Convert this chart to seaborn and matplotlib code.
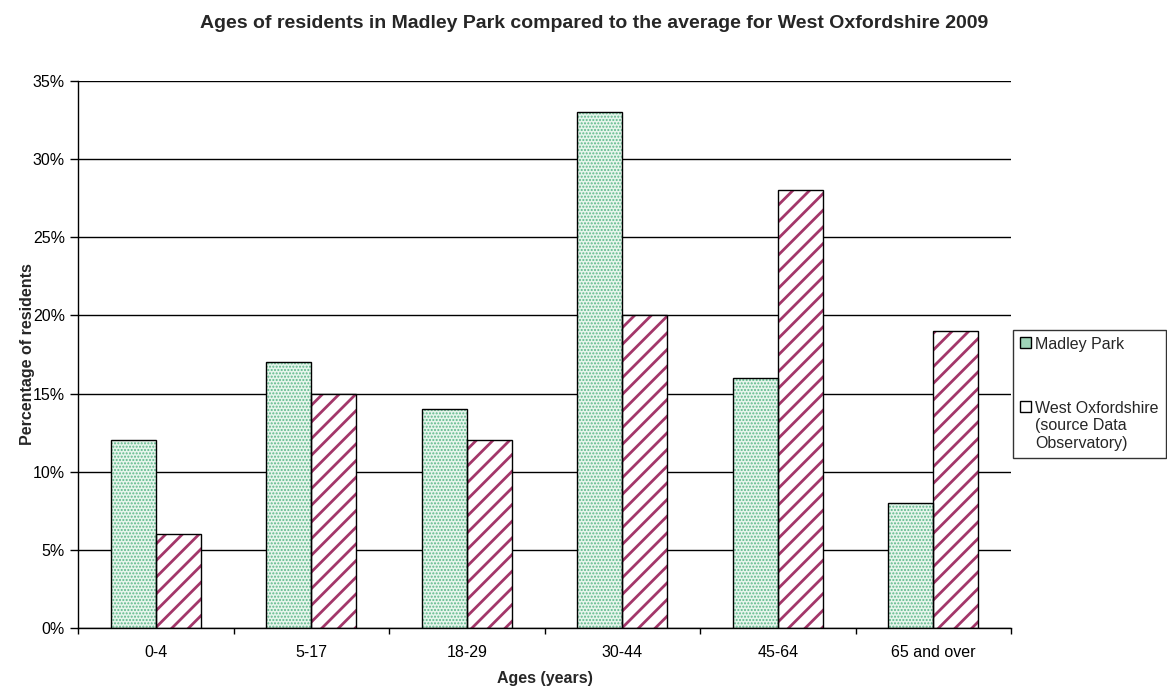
import matplotlib
matplotlib.use("Agg")
import matplotlib.pyplot as plt
import seaborn as sns
import pandas as pd
from matplotlib.patches import Rectangle, Patch
from matplotlib.ticker import FixedLocator, FuncFormatter

categories = ["0-4", "5-17", "18-29", "30-44", "45-64", "65 and over"]
madley_park = [12, 17, 14, 33, 16, 8]
west_oxfordshire = [6, 15, 12, 20, 28, 19]
series_names = ["Madley Park", "West Oxfordshire\n(source Data\nObservatory)"]
y_ticks = [0, 5, 10, 15, 20, 25, 30, 35]

df = pd.DataFrame({
    "age": categories * 2,
    "value": madley_park + west_oxfordshire,
    "series": [series_names[0]] * len(categories) + [series_names[1]] * len(categories),
})

sns.set_theme(style="white")
plt.rcParams["font.family"] = ["Liberation Sans", "DejaVu Sans"]
plt.rcParams["hatch.linewidth"] = 2.0

fig = plt.figure(figsize=(11.67, 6.87), dpi=100)
ax = fig.add_axes([78 / 1167, 1 - 628 / 687, (1011 - 78) / 1167, (628 - 81) / 687])

sns.barplot(data=df, x="age", y="value", hue="series", order=categories,
            hue_order=series_names, width=0.58, ax=ax, legend=False,
            saturation=1)

green_edge = "#5cb88a"
maroon = "#a3376a"

for bar in ax.containers[0]:
    bar.set_facecolor("#e6f5ec")
    bar.set_edgecolor(green_edge)
    bar.set_hatch(".....")
    bar.set_linewidth(0)
    if hasattr(bar, "set_hatch_linewidth"):
        bar.set_hatch_linewidth(1.0)
for bar in ax.containers[1]:
    bar.set_facecolor("white")
    bar.set_edgecolor(maroon)
    bar.set_hatch("//")
    bar.set_linewidth(0)

for cont in ax.containers:
    for bar in cont:
        ax.add_patch(Rectangle((bar.get_x(), bar.get_y()), bar.get_width(), bar.get_height(),
                               fill=False, edgecolor="black", linewidth=1.0, zorder=3))

ax.set_ylim(0, 35)
ax.set_xlim(-0.5, len(categories) - 0.5)
ax.yaxis.set_major_locator(FixedLocator(y_ticks))
ax.yaxis.set_major_formatter(FuncFormatter(lambda v, p: f"{int(v)}%"))
ax.yaxis.grid(True, color="black", linewidth=1.0)
ax.set_axisbelow(True)

for s in ["top", "right"]:
    ax.spines[s].set_visible(False)
for s in ["left", "bottom"]:
    ax.spines[s].set_color("black")
    ax.spines[s].set_linewidth(1.0)

ax.tick_params(axis="y", which="major", left=True, length=6, width=1, color="black",
               labelsize=11.5, labelcolor="black", pad=3.5)
ax.set_xticks(range(len(categories)))
ax.set_xticklabels(categories)
ax.tick_params(axis="x", which="major", bottom=True, length=0, labelsize=11.5,
               labelcolor="black", pad=12.5)
ax.set_xticks([i - 0.5 for i in range(len(categories) + 1)], minor=True)
ax.tick_params(axis="x", which="minor", bottom=True, length=4, width=1, color="black")

ax.set_xlabel("Ages (years)", fontsize=11.5, fontweight="bold", labelpad=7.5)
ax.set_ylabel("Percentage of residents", fontsize=11.5, fontweight="bold", labelpad=-2)

fig.text(594.5 / 1167, 1 - 24 / 687,
         "Ages of residents in Madley Park compared to the average for West Oxfordshire 2009",
         ha="center", va="center", fontsize=14, fontweight="bold")

handles = [
    Patch(facecolor="#9fd4b8", edgecolor="black", linewidth=1),
    Patch(facecolor="white", edgecolor="black", linewidth=1),
]
leg = fig.legend(handles, series_names, loc="upper left",
                 bbox_to_anchor=(1013 / 1167, 1 - 330 / 687),
                 frameon=True, fancybox=False, fontsize=11.5,
                 handlelength=0.65, handleheight=0.65, handletextpad=0.3,
                 labelspacing=3.05, borderpad=0.45, borderaxespad=0)
leg.get_frame().set_edgecolor("black")
leg.get_frame().set_linewidth(1.0)
try:
    for col in leg._legend_handle_box.get_children():
        for row in col.get_children():
            row.align = "top"
except Exception:
    pass

fig.savefig("out.png", dpi=100)
